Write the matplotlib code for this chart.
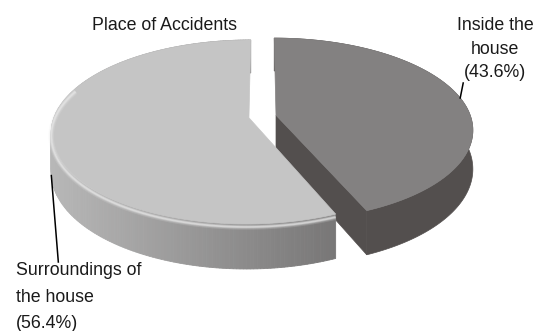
import numpy as np
import matplotlib.pyplot as plt
from matplotlib.patches import Polygon

# data
categories = ['Inside the house', 'Surroundings of the house']
label_lines = [['Inside the', 'house'], ['Surroundings of', 'the house']]
shares = [43.6, 56.4]

top_colors = ['#838181', '#c5c5c5']
dark_side = '#534f4e'
wall_left = np.array([0.72, 0.72, 0.72])
wall_right = np.array([0.47, 0.465, 0.465])

# tilted disc drawn in pixel space (origin top-left)
cx, cy = 262.5, 116.5
S, A, K, H = 194.6, 89.4, 0.154, 38.0
explode = 0.071


def project(x, y, z=0.0):
    s = 1.0 / (1.0 + K * y)
    return cx + S * x * s, cy - A * y * s + H * z * s


fracs = np.array(shares) / sum(shares)
ends = 90 - 360 * np.cumsum(fracs)
starts = np.r_[90, ends[:-1]]
mids = (starts + ends) / 2


def offset(i):
    return (explode * np.cos(np.radians(mids[i])),
            explode * np.sin(np.radians(mids[i])))


def rim(i, th, z=0.0):
    th = np.radians(th)
    ox, oy = offset(i)
    u, v = project(ox + np.cos(th), oy + np.sin(th), z)
    return np.column_stack([np.atleast_1d(u), np.atleast_1d(v)])


def apex(i, z=0.0):
    ox, oy = offset(i)
    return np.array([project(ox, oy, z)])


fig = plt.figure(figsize=(5.36, 3.31), dpi=100)
ax = fig.add_axes([0, 0, 1, 1])
ax.set_xlim(0, 536)
ax.set_ylim(331, 0)
ax.axis('off')

# --- Inside the house (drawn first, it sits behind) ---
i = 0
th = np.linspace(ends[i], starts[i], 200)
cut = np.vstack([apex(i), rim(i, ends[i]), rim(i, ends[i], 1), apex(i, 1)])
ax.add_patch(Polygon(cut, closed=True, fc=dark_side, ec=dark_side, lw=0.5))
wall = np.vstack([rim(i, th), rim(i, th[::-1], 1)])
ax.add_patch(Polygon(wall, closed=True, fc=dark_side, ec=dark_side, lw=0.5))
top = np.vstack([apex(i), rim(i, th)])
ax.add_patch(Polygon(top, closed=True, fc=top_colors[i], ec=top_colors[i], lw=0.5))

# --- Surroundings of the house ---
i = 1
th = np.linspace(ends[i], starts[i], 240)
pts_top = rim(i, th)
pts_bot = rim(i, th, 1)
umin, umax = pts_top[:, 0].min(), pts_top[:, 0].max()
for j in range(len(th) - 1):
    quad = np.vstack([pts_top[j:j + 2], pts_bot[j:j + 2][::-1]])
    t = np.clip((quad[:, 0].mean() - umin) / (umax - umin), 0, 1)
    col = wall_left + (wall_right - wall_left) * t
    ax.add_patch(Polygon(quad, closed=True, fc=col, ec=col, lw=0.6))
top = np.vstack([apex(i), pts_top])
ax.add_patch(Polygon(top, closed=True, fc=top_colors[i], ec=top_colors[i], lw=0.5))
# soft bevel along the front rim
th_front = np.linspace(-200, ends[0], 120)
bev = rim(i, th_front)
for w, a in [(4.0, 0.18), (2.4, 0.35), (1.2, 0.6)]:
    ax.plot(bev[:, 0], bev[:, 1] + 3, color='#e8e8e8', lw=w, alpha=a,
            solid_capstyle='butt')

# --- labels and leader lines ---
pct = ['(%.1f%%)' % v for v in shares]
font = dict(fontsize=12.8, family='Liberation Sans', color='#1a1a1a',
            va='baseline')

p0 = rim(0, mids[0])[0]
ax.plot([p0[0], p0[0] + 3], [p0[1], p0[1] - 15], color='black', lw=1.1)
for k, line in enumerate(label_lines[0] + [pct[0]]):
    ax.text(495, 30 + 23.5 * k, line, ha='center', **font)

p1 = rim(1, mids[1], 1)[0]
ax.plot([p1[0], p1[0] + 7], [p1[1], 262], color='black', lw=1.1)
for k, line in enumerate(label_lines[1] + [pct[1]]):
    ax.text(16, 275 + 26.5 * k, line, ha='left', **font)

ax.text(165, 30.5, 'Place of Accidents', ha='center', **font)

fig.savefig('out.png', dpi=100, facecolor='white')
